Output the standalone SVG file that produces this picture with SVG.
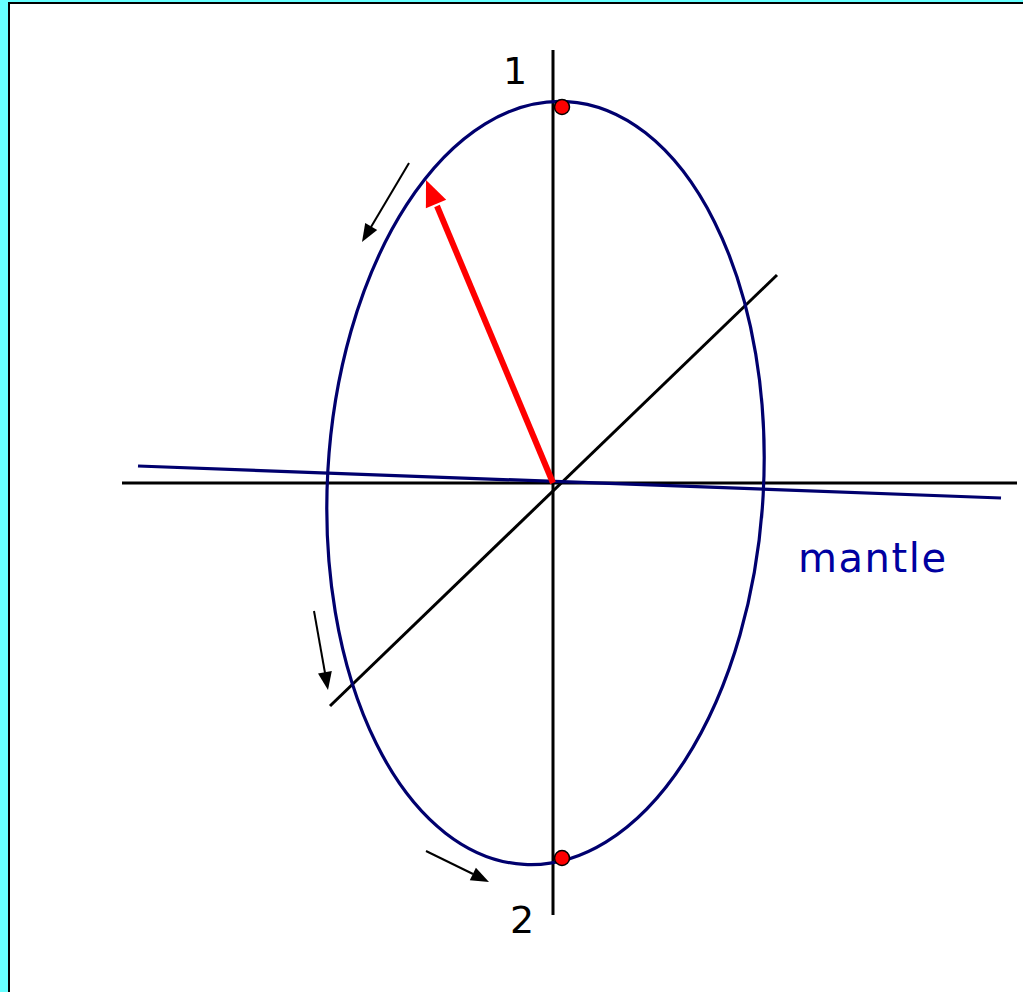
<svg xmlns="http://www.w3.org/2000/svg" width="1023" height="992" viewBox="0 0 1023 992">
<defs>
<style>
.ax{stroke:#000;stroke-width:3;fill:none}
.nv{stroke:#00006e;stroke-width:3.2;fill:none}
.sm{stroke:#000;stroke-width:2;fill:none}
.hd{fill:#000}
.dot{fill:#ff0000;stroke:#000;stroke-width:1.5}
.lbl{font-family:"DejaVu Sans","Liberation Sans",sans-serif;font-size:38px;fill:#000}
</style>
</defs>
<rect x="0" y="0" width="1023" height="992" fill="#66ffff"/>
<rect x="8" y="2" width="1100" height="1100" fill="#000"/>
<rect x="10" y="4" width="1100" height="1100" fill="#fff"/>
<g id="connectors">
<line class="ax" x1="553" y1="50" x2="553" y2="915"/>
<line class="ax" x1="122" y1="483" x2="1017" y2="483"/>
<line class="ax" x1="330" y1="706" x2="777" y2="275"/>
<line class="nv" x1="138" y1="466" x2="1001" y2="498"/>
<line stroke="#ff0000" stroke-width="6" x1="553" y1="483" x2="437" y2="206"/>
<polygon fill="#ff0000" points="426,180 446.2,199.7 425.9,208.2"/>
<line class="sm" x1="409" y1="163" x2="371" y2="227"/>
<polygon class="hd" points="362,242 377.2,230.1 365.2,222.9"/>
<line class="sm" x1="314" y1="611" x2="325" y2="673"/>
<polygon class="hd" points="328,690 331.8,671 318,673.5"/>
<line class="sm" x1="426" y1="851" x2="473" y2="874"/>
<polygon class="hd" points="489,882 469.8,880.3 475.9,867.8"/>
</g>
<g id="ellipse">
<ellipse class="nv" cx="545.5" cy="483" rx="218" ry="382" transform="rotate(3.2 545.5 483)"/>
</g>
<g id="point1">
<circle class="dot" cx="562" cy="107" r="7.5"/>
<text class="lbl" x="503" y="84">1</text>
</g>
<g id="point2">
<circle class="dot" cx="562" cy="858" r="7.5"/>
<text class="lbl" x="510" y="933">2</text>
</g>
<g id="mantle">
<text x="798" y="572" font-family="DejaVu Sans, sans-serif" font-size="40" fill="#0000a0" textLength="148">mantle</text>
</g>
</svg>
